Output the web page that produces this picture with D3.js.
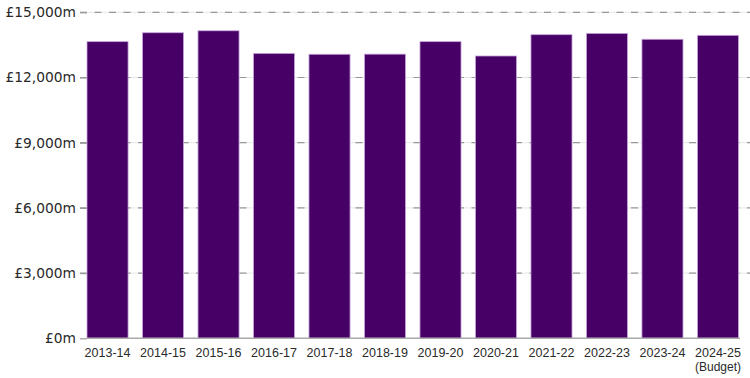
<!DOCTYPE html>
<html>
<head>
<meta charset="utf-8">
<script src="https://cdn.jsdelivr.net/npm/d3@7"></script>
<style>
  body { margin: 0; background: #fff; }
  text { font-family: "Liberation Sans", Arial, sans-serif; fill: #222; }
</style>
</head>
<body>
<div id="container"></div>
<script>
const years = ["2013-14", "2014-15", "2015-16", "2016-17", "2017-18", "2018-19",
  "2019-20", "2020-21", "2021-22", "2022-23", "2023-24", "2024-25"];
const subLabels = ["", "", "", "", "", "", "", "", "", "", "", "(Budget)"];
const spending = [13650, 14060, 14150, 13110, 13070, 13075, 13650, 12990, 13970, 14030, 13760, 13940];
const yTicks = [0, 3000, 6000, 9000, 12000, 15000];

const width = 750, height = 378;
const plot = {left: 87, right: 738.5, top: 12.3, bottom: 338.3};

const svg = d3.select("#container").append("svg")
  .attr("width", width)
  .attr("height", height);

const x = d3.scaleBand()
  .domain(years)
  .range([plot.left, plot.right])
  .paddingInner(0.26)
  .paddingOuter(0);

const y = d3.scaleLinear()
  .domain([0, 15000])
  .range([plot.bottom, plot.top]);

// gridlines
const grid = svg.append("g");
yTicks.filter(t => t > 0).forEach(t => {
  grid.append("line")
    .attr("x1", 80).attr("x2", width)
    .attr("y1", y(t)).attr("y2", y(t))
    .attr("stroke", "#e6e6e6")
    .attr("stroke-width", 1);
  grid.append("line")
    .attr("x1", 80).attr("x2", width)
    .attr("y1", y(t)).attr("y2", y(t))
    .attr("stroke", "#999")
    .attr("stroke-width", 1.2)
    .attr("stroke-dasharray", "7 7.5");
});

// y axis labels
const yAxis = svg.append("g")
  .attr("transform", `translate(${plot.left},0)`)
  .call(d3.axisLeft(y).tickValues(yTicks).tickSize(7).tickPadding(4)
    .tickFormat(d => "£" + d3.format(",")(d) + "m"));
yAxis.select(".domain").remove();
yAxis.selectAll(".tick line").attr("stroke", "#999").attr("stroke-width", 1.2);
yAxis.selectAll("text")
  .style("font-size", "13.8px")
  .style("font-family", "'DejaVu Sans', sans-serif")
  .style("fill", "#2a2a2a");

// bars
svg.append("g").selectAll("rect")
  .data(spending)
  .join("rect")
  .attr("x", (d, i) => x(years[i]))
  .attr("y", d => y(d))
  .attr("width", x.bandwidth())
  .attr("height", d => y(0) - y(d))
  .attr("fill", "#460066")
  .attr("stroke", "#c8a6dc")
  .attr("stroke-width", 0.8);

// baseline
svg.append("line")
  .attr("x1", plot.left).attr("x2", 740)
  .attr("y1", y(0)).attr("y2", y(0))
  .attr("stroke", "#aaa")
  .attr("stroke-width", 1.5);

// x labels
const xl = svg.append("g").selectAll("g")
  .data(years)
  .join("g")
  .attr("transform", d => `translate(${x(d) + x.bandwidth() / 2},0)`);
xl.append("text")
  .attr("y", 357)
  .attr("text-anchor", "middle")
  .style("font-size", "12.5px")
  .style("fill", "#2a2a2a")
  .text(d => d);
xl.append("text")
  .attr("y", 371)
  .attr("text-anchor", "middle")
  .style("font-size", "12px")
  .style("fill", "#2a2a2a")
  .text((d, i) => subLabels[i]);
</script>
</body>
</html>
